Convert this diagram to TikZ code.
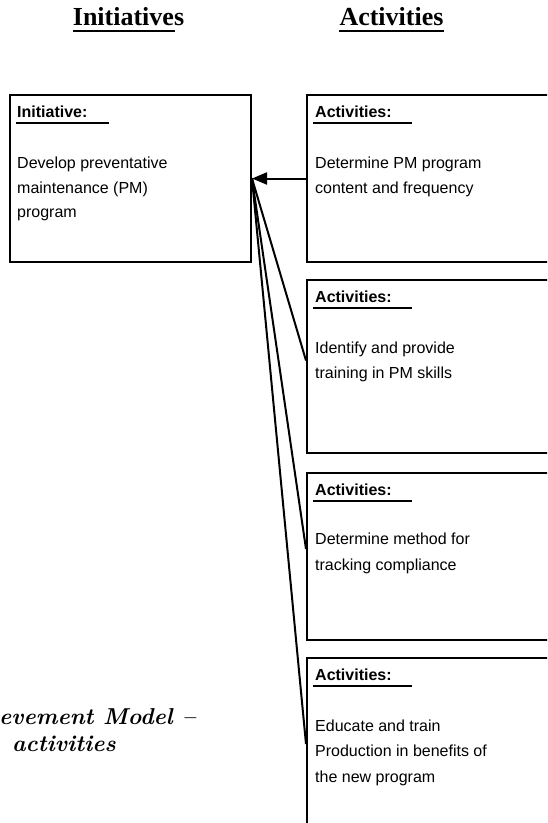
\documentclass[tikz,border=0pt]{standalone}
\usepackage{fontspec}
\newfontfamily\titlefont{Liberation Serif}
\newfontfamily\boxfont{Liberation Sans}
\usetikzlibrary{arrows.meta}
\tikzset{
  frame/.style={draw, line width=2pt, inner sep=0pt},
  heading/.style={font=\titlefont\bfseries\fontsize{26}{30}\selectfont, inner sep=0pt, anchor=base},
  tag/.style={font=\boxfont\bfseries\fontsize{16}{19}\selectfont, inner sep=0pt, anchor=base west},
  body/.style={font=\boxfont\fontsize{16}{19}\selectfont, inner sep=0pt, anchor=base west},
  caption/.style={font=\bfseries\itshape\fontsize{23}{27}\selectfont, inner sep=0pt, anchor=base east},
  rule/.style={line width=2pt},
  link/.style={line width=2pt},
}
\begin{document}
\begin{tikzpicture}[x=1pt,y=-1pt]
\useasboundingbox (0,0) rectangle (547,823);
\clip (0,0) rectangle (547,823);

% column headings
\node[heading] (h1) at (128.5,25) {Initiatives};
\node[heading] (h2) at (391.5,25) {Activities};
\draw[rule] ([yshift=-6pt]h1.base west) -- ([yshift=-6pt,xshift=-9pt]h1.base east);
\draw[rule] ([yshift=-6pt]h2.base west) -- ([yshift=-6pt]h2.base east);

% boxes
\node[frame, minimum width=241pt, minimum height=167pt] (ini) at (130.5,178.5) {};
\node[frame, minimum width=253pt, minimum height=167pt] (a1) at (433.5,178.5) {};
\node[frame, minimum width=253pt, minimum height=173pt] (a2) at (433.5,366.5) {};
\node[frame, minimum width=253pt, minimum height=167pt] (a3) at (433.5,556.5) {};
\node[frame, minimum width=253pt, minimum height=172pt] (a4) at (433.5,744) {};

% initiative box
\node[tag] (l0) at (17,117) {Initiative:};
\draw[rule] ([yshift=-6pt,xshift=-1pt]l0.base west) -- ++(93,0);
\node[body] (i1) at (17,168) {Develop preventative};
\node[body] (i2) at (17,193) {maintenance (PM)};
\node[body] (i3) at (17,217) {program};

% activity boxes
\node[tag] (l1) at (315,117) {Activities:};
\draw[rule] ([yshift=-6pt,xshift=-2pt]l1.base west) -- ++(99,0);
\node[body] (b11) at (315,168) {Determine PM program};
\node[body] (b12) at (315,193) {content and frequency};

\node[tag] (l2) at (315,302) {Activities:};
\draw[rule] ([yshift=-6pt,xshift=-2pt]l2.base west) -- ++(99,0);
\node[body] (b21) at (315,353) {Identify and provide};
\node[body] (b22) at (315,378) {training in PM skills};

\node[tag] (l3) at (315,495) {Activities:};
\draw[rule] ([yshift=-6pt,xshift=-2pt]l3.base west) -- ++(99,0);
\node[body] (b31) at (315,544) {Determine method for};
\node[body] (b32) at (315,570) {tracking compliance};

\node[tag] (l4) at (315,680) {Activities:};
\draw[rule] ([yshift=-6pt,xshift=-2pt]l4.base west) -- ++(99,0);
\node[body] (b41) at (315,731) {Educate and train};
\node[body] (b42) at (315,756) {Production in benefits of};
\node[body] (b43) at (315,782) {the new program};

% caption
\node[caption] (c1) at (196,724) {evement Model --};
\node[caption] (c2) at (116,751) {activities};

% connectors
\draw[link, -{Triangle[length=15pt,width=12pt]}] (a1.west) -- (ini.east);
\draw[link] (ini.east) -- ([yshift=6pt]a2.west);
\draw[link] (ini.east) -- ([yshift=7.5pt]a3.west);
\draw[link] (ini.east) -- (a4.west);
\end{tikzpicture}
\end{document}
